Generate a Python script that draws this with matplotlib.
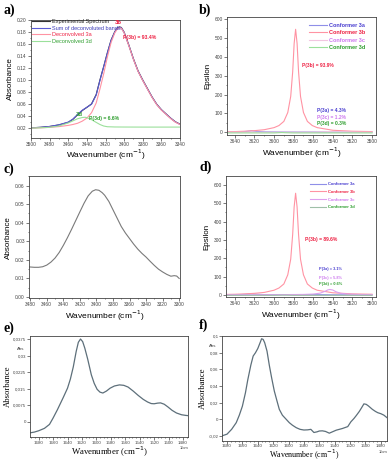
import matplotlib
matplotlib.use("Agg")
import matplotlib.pyplot as plt
from matplotlib.ticker import MultipleLocator

plt.rcParams["font.family"] = ["Liberation Sans", "DejaVu Sans"]

# -------------------------------
# Panel a: experimental + deconvolution
# -------------------------------
a_wn = [3500, 3490, 3480, 3470, 3460, 3455, 3450, 3445, 3440, 3435, 3430, 3426, 3422, 3418,
        3414, 3410, 3407, 3405, 3403, 3400, 3395, 3390, 3385, 3380, 3375, 3370, 3365, 3360,
        3355, 3350, 3345, 3340]
a_exp = [0.0210, 0.0218, 0.0232, 0.0258, 0.0300, 0.0350, 0.0425, 0.0495, 0.0548, 0.0605,
         0.0760, 0.1000, 0.1220, 0.1450, 0.1660, 0.1800, 0.1865, 0.1878, 0.1868, 0.1790,
         0.1580, 0.1350, 0.1150, 0.1000, 0.0860, 0.0720, 0.0600, 0.0510, 0.0440, 0.0370,
         0.0310, 0.0270]
a_sum = [0.0210, 0.0218, 0.0232, 0.0260, 0.0305, 0.0355, 0.0430, 0.0500, 0.0550, 0.0600,
         0.0750, 0.0990, 0.1215, 0.1445, 0.1655, 0.1795, 0.1860, 0.1872, 0.1862, 0.1785,
         0.1575, 0.1345, 0.1145, 0.0995, 0.0855, 0.0718, 0.0598, 0.0508, 0.0438, 0.0368,
         0.0308, 0.0268]
a_3a = [0.0205, 0.0210, 0.0218, 0.0230, 0.0250, 0.0265, 0.0285, 0.0320, 0.0370, 0.0460,
        0.0620, 0.0850, 0.1100, 0.1380, 0.1620, 0.1780, 0.1850, 0.1865, 0.1855, 0.1780,
        0.1570, 0.1340, 0.1140, 0.0990, 0.0850, 0.0712, 0.0592, 0.0502, 0.0432, 0.0362,
        0.0303, 0.0264]
a_3d_wn = [3500, 3490, 3480, 3470, 3460, 3455, 3450, 3445, 3442, 3440, 3435, 3430, 3426,
           3422, 3418, 3410, 3400, 3380, 3360, 3340]
a_3d = [0.0205, 0.0210, 0.0218, 0.0240, 0.0290, 0.0325, 0.0360, 0.0380, 0.0385, 0.0378,
        0.0345, 0.0300, 0.0265, 0.0240, 0.0228, 0.0224, 0.0223, 0.0222, 0.0222, 0.0222]

# -------------------------------
# Panels b and d: calculated conformer spectra
# -------------------------------
bd_wn = [3650, 3640, 3630, 3620, 3610, 3600, 3595, 3590, 3586, 3583, 3581, 3579.5, 3578,
         3576.5, 3575, 3573, 3570, 3566, 3561, 3556, 3540, 3520, 3500]
b_3b = [3, 4, 6, 9, 14, 25, 36, 58, 105, 190, 320, 470, 545, 470, 320, 190, 105, 58, 36,
        25, 11, 6, 4]
d_3b = [3, 4, 6, 9, 14, 26, 38, 60, 110, 195, 330, 480, 555, 480, 330, 195, 110, 60, 38,
        26, 12, 6, 4]
small_3a_wn = [3650, 3635, 3628, 3623, 3618, 3610, 3590, 3560, 3540, 3520, 3500]
b_3a = [1, 2, 5, 8, 5, 3, 2, 2, 2, 1, 1]
d_3a = [1, 2, 4, 6, 4, 2, 2, 2, 1, 1, 1]
b_3c_wn = [3650, 3600, 3560, 3548, 3544, 3540, 3520, 3500]
b_3c = [0.5, 1, 1.5, 3, 4, 3, 1, 0.5]
d_3c_wn = [3650, 3600, 3570, 3560, 3553, 3548, 3545, 3543, 3540, 3537, 3532, 3525, 3510, 3500]
d_3c = [1, 1.5, 3, 5, 10, 20, 28, 30, 27, 18, 9, 5, 2, 1.5]
flat_3d_wn = [3650, 3600, 3592, 3588, 3580, 3540, 3500]
b_3d = [-3, -3, -1, -2, -3, -3, -3]
d_3d = [-2, -2, -1, -1, -2, -2, -2]

# -------------------------------
# Panel c: experimental OH band
# -------------------------------
c_wn = [3481, 3475, 3470, 3465, 3460, 3455, 3450, 3445, 3440, 3435, 3430, 3425, 3420, 3415,
        3410, 3405, 3401, 3397, 3393, 3390, 3385, 3380, 3375, 3370, 3365, 3360, 3355, 3350,
        3345, 3340, 3335, 3330, 3325, 3320, 3315, 3310, 3306, 3303, 3300]
c_abs = [0.0162, 0.0160, 0.0160, 0.0163, 0.0172, 0.0188, 0.0210, 0.0240, 0.0278, 0.0320,
         0.0365, 0.0412, 0.0459, 0.0505, 0.0545, 0.0570, 0.0578, 0.0575, 0.0562, 0.0548,
         0.0515, 0.0470, 0.0425, 0.0380, 0.0345, 0.0315, 0.0285, 0.0258, 0.0235, 0.0215,
         0.0192, 0.0170, 0.0150, 0.0135, 0.0122, 0.0112, 0.0115, 0.0113, 0.0100]

# -------------------------------
# Panels e and f: amide region
# -------------------------------
e_wn = [1693, 1686, 1680, 1672, 1665, 1660, 1654, 1646, 1640, 1636, 1632, 1628, 1625, 1622,
        1619, 1616, 1612, 1607, 1603, 1599, 1595, 1591, 1586, 1581, 1575, 1568, 1562, 1556,
        1549, 1542, 1535, 1529, 1524, 1520, 1515, 1511, 1506, 1501, 1495, 1489, 1482, 1476,
        1473]
e_abs = [-0.0051, -0.0047, -0.0041, -0.0030, -0.0012, 0.0017, 0.0055, 0.0110, 0.0153, 0.0195,
         0.0250, 0.0320, 0.0362, 0.0377, 0.0365, 0.0335, 0.0285, 0.0214, 0.0175, 0.0148,
         0.0135, 0.0131, 0.0140, 0.0153, 0.0163, 0.0168, 0.0166, 0.0158, 0.0140, 0.0120,
         0.0102, 0.0090, 0.0083, 0.0082, 0.0085, 0.0086, 0.0080, 0.0068, 0.0052, 0.0040,
         0.0032, 0.0029, 0.0028]
f_wn = [1686.5, 1680, 1674, 1668, 1664, 1660, 1656, 1653, 1649, 1646, 1643, 1640, 1637, 1635,
        1633, 1631, 1628, 1625, 1622, 1618.5, 1615, 1612, 1608, 1603, 1599, 1595, 1590, 1585,
        1580, 1575, 1571, 1567, 1563, 1560, 1556, 1552, 1547, 1543, 1538, 1530, 1523, 1519,
        1515, 1512, 1508, 1505, 1502, 1499, 1496, 1491, 1487, 1484, 1480, 1476, 1472]
f_abs = [-0.0198, -0.0178, -0.0120, -0.0040, 0.0050, 0.0158, 0.0320, 0.0474, 0.0652, 0.0760,
         0.0800, 0.0850, 0.0920, 0.0968, 0.0960, 0.0920, 0.0820, 0.0650, 0.0500, 0.0340,
         0.0220, 0.0120, 0.0050, 0.0000, -0.0040, -0.0070, -0.0100, -0.0120, -0.0128,
         -0.0126, -0.0120, -0.0158, -0.0150, -0.0140, -0.0138, -0.0145, -0.0166, -0.0150,
         -0.0130, -0.0110, -0.0087, -0.0030, 0.0010, 0.0045, 0.0095, 0.0140, 0.0186, 0.0180,
         0.0160, 0.0120, 0.0095, 0.0080, 0.0068, 0.0050, 0.0020]

e_yticks = [0, 0.0075, 0.015, 0.0225, 0.03, 0.0375]
e_ylabels = ["0", "0,0075", "0,015", "0,0225", "0,03", "0,0375"]
f_yticks = [-0.02, 0, 0.02, 0.04, 0.06, 0.08, 0.1]
f_ylabels = ["-0,02", "0", "0,02", "0,04", "0,06", "0,08", "0,1"]

# colours
C_EXP = "#333333"
C_SUM = "#5b5bd6"
C_3A = "#8f8fe8"
C_3B = "#ff93a3"
C_3C = "#f2c6e0"
C_3D = "#9be09b"
T_3A = "#4a3fd0"
T_3B = "#ee2244"
T_3C = "#cc77ee"
T_3D = "#2e9e2e"
C_GREY = "#7a7a7a"
C_SLATE = "#5d6f7a"

W, H = 392, 462
fig = plt.figure(figsize=(W / 100, H / 100), dpi=100)


def px_axes(x0, y0, x1, y1):
    return fig.add_axes([x0 / W, 1 - y1 / H, (x1 - x0) / W, (y1 - y0) / H])


def style_ax(ax, labelsize=3.5, pad=1):
    for s in ax.spines.values():
        s.set_linewidth(0.6)
        s.set_color("#444444")
    ax.tick_params(which="both", direction="out", labelsize=labelsize, width=0.5,
                   colors="#444444", pad=pad)
    ax.tick_params(which="major", length=2)
    ax.tick_params(which="minor", length=1)


wn_label = "Wavenumber (cm$^{-1}$)"

# ---- a ----
ax = px_axes(31, 19.5, 180, 137.5)
ax.plot(a_wn, a_exp, color=C_EXP, lw=0.8, label="Experimental Spectrum")
ax.plot(a_wn, a_sum, color=C_SUM, lw=0.8, label="Sum of deconvoluted bands")
ax.plot(a_wn, a_3a, color=C_3B, lw=0.8, label="Deconvolved 3a")
ax.plot(a_3d_wn, a_3d, color=C_3D, lw=0.8, label="Deconvolved 3d")
ax.set_xlim(3500, 3340)
ax.set_ylim(0.005, 0.20)
ax.xaxis.set_major_locator(MultipleLocator(20))
ax.xaxis.set_minor_locator(MultipleLocator(10))
ax.yaxis.set_major_locator(MultipleLocator(0.02))
ax.yaxis.set_minor_locator(MultipleLocator(0.01))
ax.yaxis.set_major_formatter(lambda v, p: f"{v:.2f}")
style_ax(ax)
ax.set_xlabel(wn_label, fontsize=6, labelpad=1)
ax.set_ylabel("Absorbance", fontsize=5.8, labelpad=2)
leg = ax.legend(loc="upper left", bbox_to_anchor=(0.0, 1.01), frameon=False, fontsize=4,
                handlelength=3.2, handletextpad=0.4, labelspacing=0.25, borderpad=0.2,
                borderaxespad=0)
for t, c in zip(leg.get_texts(), ["#222222", "#3d3db8", T_3B, T_3D]):
    t.set_color(c)
ax.text(3406, 0.1955, "3b", color=T_3B, fontsize=4.2, fontweight="bold", ha="center", va="center")
ax.text(3401, 0.1695, "P(3b) = 93.4%", color=T_3B, fontsize=3.7, fontweight="bold", va="center")
ax.text(3448, 0.0428, "3d", color=T_3D, fontsize=4.2, fontweight="bold", ha="center", va="center")
ax.text(3438, 0.036, "P(3d) = 6.6%", color=T_3D, fontsize=3.7, fontweight="bold", va="center")

# ---- b ----
ax = px_axes(227, 17, 376, 135)
ax.plot(small_3a_wn, b_3a, color=C_3A, lw=0.8, label="Conformer 3a")
ax.plot(bd_wn, b_3b, color=C_3B, lw=0.8, label="Conformer 3b")
ax.plot(b_3c_wn, b_3c, color=C_3C, lw=0.8, label="Conformer 3c")
ax.plot(flat_3d_wn, b_3d, color=C_3D, lw=0.8, label="Conformer 3d")
ax.set_xlim(3648, 3496)
ax.set_ylim(-14, 610)
ax.xaxis.set_major_locator(MultipleLocator(20))
ax.xaxis.set_minor_locator(MultipleLocator(10))
ax.yaxis.set_major_locator(MultipleLocator(100))
ax.yaxis.set_minor_locator(MultipleLocator(50))
style_ax(ax)
ax.set_xlabel(wn_label, fontsize=6, labelpad=1)
ax.set_ylabel("Epsilon", fontsize=5.8, labelpad=2)
leg = ax.legend(loc="upper right", bbox_to_anchor=(0.93, 0.95), frameon=False,
                prop={"size": 4, "weight": "bold"}, handlelength=3.2, handletextpad=0.4,
                labelspacing=0.45, borderpad=0, borderaxespad=0)
for t, c in zip(leg.get_texts(), [T_3A, T_3B, T_3C, T_3D]):
    t.set_color(c)
ax.text(3571.5, 352, "P(3b) = 93.9%", color=T_3B, fontsize=3.5, fontweight="bold", va="center")
ax.text(3556.5, 117, "P(3a) = 4.3%", color=T_3A, fontsize=3.5, fontweight="bold", va="center")
ax.text(3556.5, 81, "P(3c) = 1.2%", color=T_3C, fontsize=3.5, fontweight="bold", va="center")
ax.text(3556.5, 46, "P(3d) = 0.3%", color=T_3D, fontsize=3.5, fontweight="bold", va="center")

# ---- c ----
ax = px_axes(29, 176, 180, 298.3)
ax.plot(c_wn, c_abs, color=C_GREY, lw=0.8)
ax.set_xlim(3481.5, 3299)
ax.set_ylim(-0.0007, 0.0652)
ax.xaxis.set_major_locator(MultipleLocator(20))
ax.xaxis.set_minor_locator(MultipleLocator(10))
ax.yaxis.set_major_locator(MultipleLocator(0.01))
ax.yaxis.set_minor_locator(MultipleLocator(0.005))
ax.yaxis.set_major_formatter(lambda v, p: f"{v:.2f}")
style_ax(ax)
ax.set_xlabel(wn_label, fontsize=6, labelpad=1)
ax.set_ylabel("Absorbance", fontsize=5.8, labelpad=2)

# ---- d ----
ax = px_axes(226, 176, 376, 297)
ax.plot(small_3a_wn, d_3a, color=C_3A, lw=0.8, label="Conformer 3a")
ax.plot(bd_wn, d_3b, color=C_3B, lw=0.8, label="Conformer 3b")
ax.plot(d_3c_wn, d_3c, color="#dda0ee", lw=0.8, label="Conformer 3c")
ax.plot(flat_3d_wn, d_3d, color="#9fbfa8", lw=0.8, label="Conformer 3d")
ax.set_xlim(3649, 3496)
ax.set_ylim(-11, 649)
ax.xaxis.set_major_locator(MultipleLocator(20))
ax.xaxis.set_minor_locator(MultipleLocator(10))
ax.yaxis.set_major_locator(MultipleLocator(100))
ax.yaxis.set_minor_locator(MultipleLocator(50))
style_ax(ax)
ax.set_xlabel(wn_label, fontsize=6, labelpad=1)
ax.set_ylabel("Epsilon", fontsize=5.8, labelpad=2)
leg = ax.legend(loc="upper right", bbox_to_anchor=(0.86, 0.95), frameon=False,
                prop={"size": 3, "weight": "bold"}, handlelength=3.8, handletextpad=0.6,
                labelspacing=0.9, borderpad=0, borderaxespad=0)
for t, c in zip(leg.get_texts(), [T_3A, T_3B, T_3C, T_3D]):
    t.set_color(c)
ax.text(3568.5, 300, "P(3b) = 89.6%", color=T_3B, fontsize=3.6, fontweight="bold", va="center")
ax.text(3554, 142, "P(3a) = 3.1%", color=T_3A, fontsize=2.8, fontweight="bold", va="center")
ax.text(3554, 95, "P(3c) = 5.8%", color=T_3C, fontsize=2.8, fontweight="bold", va="center")
ax.text(3554, 58, "P(3d) = 0.6%", color=T_3D, fontsize=2.8, fontweight="bold", va="center")

# ---- e ----
ax = px_axes(30, 335.5, 188, 436.7)
ax.plot(e_wn, e_abs, color=C_SLATE, lw=0.9)
ax.set_xlim(1692, 1473)
ax.set_ylim(-0.0068, 0.0393)
ax.xaxis.set_major_locator(MultipleLocator(20))
ax.xaxis.set_minor_locator(MultipleLocator(5))
ax.set_yticks(e_yticks)
ax.set_yticklabels(e_ylabels)
style_ax(ax, labelsize=3.2, pad=0.8)
ax.set_xlabel(wn_label, fontsize=6.3, family="Liberation Serif", labelpad=0.5)
ax.set_ylabel("Absorbance", fontsize=6.2, family="Liberation Serif", labelpad=1)
ax.text(-0.035, 0.864, "Abs", transform=ax.transAxes, fontsize=3.2, ha="right", va="center",
        color="#444444")
ax.text(1.0, -0.115, "1/cm", transform=ax.transAxes, fontsize=3, ha="right", va="center",
        color="#444444")

# ---- f ----
ax = px_axes(222, 335.5, 387, 441)
ax.plot(f_wn, f_abs, color=C_SLATE, lw=0.9)
ax.set_xlim(1686.5, 1472)
ax.set_ylim(-0.026, 0.1007)
ax.xaxis.set_major_locator(MultipleLocator(20))
ax.xaxis.set_minor_locator(MultipleLocator(5))
ax.set_yticks(f_yticks)
ax.set_yticklabels(f_ylabels)
style_ax(ax, labelsize=3.2, pad=0.5)
ax.set_xlabel(wn_label, fontsize=5.8, family="Liberation Serif", labelpad=0)
ax.set_ylabel("Absorbance", fontsize=6.2, family="Liberation Serif", labelpad=1)
ax.text(-0.035, 0.905, "Abs", transform=ax.transAxes, fontsize=3.2, ha="right", va="center",
        color="#444444")
ax.text(1.0, -0.105, "1/cm", transform=ax.transAxes, fontsize=3, ha="right", va="center",
        color="#444444")

# panel letters
for lab, x, y in [("a)", 3, 10), ("b)", 199, 10), ("c)", 3, 169), ("d)", 199, 167),
                  ("e)", 3, 328), ("f)", 199, 325)]:
    fig.text(x / W, 1 - y / H, lab, fontsize=10, fontweight="bold", family="Liberation Serif",
             va="center", ha="left")

fig.savefig("out.png", dpi=100)
